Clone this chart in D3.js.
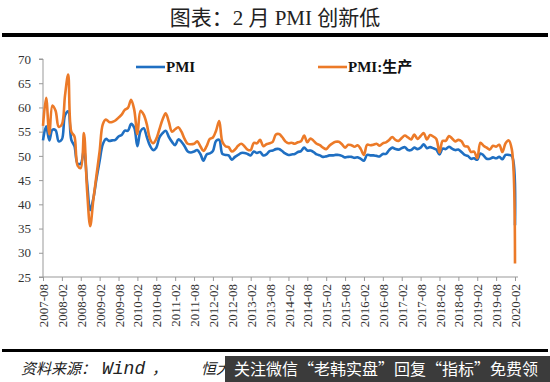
<!DOCTYPE html>
<html>
<head>
<meta charset="utf-8">
<script src="https://cdn.jsdelivr.net/npm/d3@7"></script>
<style>
  body { margin: 0; background: #fff; }
  svg { display: block; }
</style>
</head>
<body>
<div id="chart"></div>
<script>
// monthly data, 2007-08 .. 2020-02
var pmi = [
  53.2, 56.1, 53.2, 55.4, 55.3,
  53.0, 53.4, 58.4, 59.2, 53.3, 52.0, 48.4, 48.4, 51.2, 44.6, 38.8, 41.2,
  45.3, 49.0, 52.4, 53.5, 53.1, 53.2, 53.3, 54.0, 54.3, 55.2, 55.2, 56.6,
  55.8, 52.0, 55.1, 55.7, 53.9, 52.1, 51.2, 51.7, 53.8, 54.7, 55.2, 53.9,
  52.9, 52.2, 53.4, 52.9, 52.0, 50.9, 50.7, 50.9, 51.2, 50.4, 49.0, 50.3,
  50.5, 51.0, 53.1, 53.3, 50.4, 50.2, 50.1, 49.2, 49.8, 50.2, 50.6, 50.6,
  50.4, 50.1, 50.9, 50.6, 50.8, 50.1, 50.3, 51.0, 51.1, 51.4, 51.4, 51.0,
  50.5, 50.2, 50.3, 50.4, 50.8, 51.0, 51.7, 51.1, 51.1, 50.8, 50.3, 50.1,
  49.8, 49.9, 50.1, 50.1, 50.2, 50.2, 50.0, 49.7, 49.8, 49.8, 49.6, 49.7,
  49.4, 49.0, 50.2, 50.1, 50.1, 50.0, 49.9, 50.4, 50.4, 51.2, 51.7, 51.4,
  51.3, 51.6, 51.8, 51.2, 51.2, 51.7, 51.4, 51.7, 52.4, 51.6, 51.8, 51.6,
  51.3, 50.3, 51.5, 51.4, 51.9, 51.5, 51.2, 51.3, 50.8, 50.2, 50.0, 49.4,
  49.5, 49.2, 50.5, 50.1, 49.4, 49.4, 49.7, 49.5, 49.8, 49.3, 50.2, 50.2,
  50.0, 35.7
];
var production = [
  56.2, 62.0, 54.5, 60.4, 59.3,
  56.0, 56.5, 62.5, 66.8, 55.0, 54.0, 48.0, 47.5, 54.7, 43.0, 35.5, 41.0,
  46.0, 51.0, 56.5, 57.5, 57.0, 57.0, 57.3, 57.9, 58.5, 59.5, 59.9, 61.6,
  59.5, 54.5, 59.3, 58.5, 56.5, 53.5, 52.6, 53.5, 55.5, 57.5, 58.8, 57.0,
  55.0, 55.5, 55.9, 55.0, 53.5, 52.5, 52.4, 52.5, 53.0, 52.0, 51.0, 52.0,
  53.5, 53.8, 55.2, 57.2, 52.9, 52.0, 51.8, 50.9, 51.3, 52.1, 52.5, 52.0,
  51.3, 51.2, 52.7, 52.6, 53.3, 52.0, 52.4, 52.6, 52.9, 54.4, 54.5, 53.9,
  53.0, 52.6, 52.7, 52.5, 52.8, 53.0, 54.2, 52.8, 53.6, 53.1, 52.5, 52.2,
  51.7, 51.4, 52.1, 52.6, 52.9, 52.9, 52.4, 51.7, 52.3, 52.2, 51.9, 52.2,
  51.4, 50.2, 52.3, 52.2, 52.3, 52.5, 52.1, 52.6, 52.8, 53.3, 53.9, 53.3,
  53.1, 53.7, 54.2, 53.8, 53.4, 54.4, 53.5, 54.1, 54.7, 53.4, 54.3, 54.0,
  53.5, 50.7, 53.1, 53.1, 54.1, 53.6, 53.0, 53.3, 53.0, 52.0, 51.9, 50.8,
  50.9, 49.5, 52.7, 52.1, 51.7, 51.3, 52.1, 51.9, 52.3, 50.8, 52.6, 53.2,
  51.3, 27.8
];
var tickLabels = [
  "2007-08", "2008-02", "2008-08", "2009-02", "2009-08", "2010-02", "2010-08",
  "2011-02", "2011-08", "2012-02", "2012-08", "2013-02", "2013-08", "2014-02",
  "2014-08", "2015-02", "2015-08", "2016-02", "2016-08", "2017-02", "2017-08",
  "2018-02", "2018-08", "2019-02", "2019-08", "2020-02"
];
var yTicks = [25, 30, 35, 40, 45, 50, 55, 60, 65, 70];
var seriesNames = ["PMI", "PMI:生产"];

var width = 550, height = 382;
var blue = "#1f6fc2", orange = "#ec7a28";
var serif = "'Liberation Serif', 'Times New Roman', 'Noto Sans CJK SC', serif";
var cjk = "'Noto Sans CJK SC', sans-serif";

var svg = d3.select("#chart").append("svg")
  .attr("width", width)
  .attr("height", height);

// title + rules
svg.append("text")
  .attr("x", 275).attr("y", 25)
  .attr("text-anchor", "middle")
  .attr("font-family", serif)
  .attr("font-size", 21)
  .attr("fill", "#222")
  .text("图表：2 月 PMI 创新低");
svg.append("rect").attr("x", 2).attr("y", 33).attr("width", 546).attr("height", 4).attr("fill", "#000");
svg.append("rect").attr("x", 2).attr("y", 349).attr("width", 546).attr("height", 3).attr("fill", "#000");

// scales
var x = d3.scaleLinear().domain([0, pmi.length - 1]).range([43, 515]);
var y = d3.scaleLinear().domain([25, 70]).range([277, 59]);

// y axis
var yAxis = svg.append("g")
  .attr("transform", "translate(43,0)")
  .call(d3.axisLeft(y).tickValues(yTicks).tickSize(4).tickPadding(8));
yAxis.select(".domain").attr("stroke", "#999").attr("d", "M-4,59H0V277H-4");
yAxis.selectAll(".tick line").attr("stroke", "#999");
yAxis.selectAll("text")
  .attr("font-family", serif)
  .attr("font-size", 13)
  .attr("fill", "#333");

// x axis
var xAxis = svg.append("g")
  .attr("transform", "translate(0,277)")
  .call(d3.axisBottom(x)
    .tickValues(tickLabels.map(function(d, i) { return i * 6; }))
    .tickFormat(function(d) { return tickLabels[d / 6]; })
    .tickSize(4)
    .tickSizeOuter(0));
xAxis.select(".domain").attr("stroke", "#999").attr("d", "M43,0H518");
xAxis.selectAll(".tick line").attr("stroke", "#999");
xAxis.selectAll("text")
  .attr("font-family", serif)
  .attr("font-size", 13)
  .attr("fill", "#333")
  .attr("text-anchor", "end")
  .attr("transform", "rotate(-90)")
  .attr("x", -7)
  .attr("y", 0)
  .attr("dy", "0.35em");

// lines
var line = d3.line()
  .x(function(d, i) { return x(i); })
  .y(function(d) { return y(d); })
  .curve(d3.curveCatmullRom.alpha(0.5));

svg.append("path").datum(pmi)
  .attr("d", line)
  .attr("fill", "none")
  .attr("stroke", blue)
  .attr("stroke-width", 2.6);
svg.append("path").datum(production)
  .attr("d", line)
  .attr("fill", "none")
  .attr("stroke", orange)
  .attr("stroke-width", 2.6);

// legend
var legend = [
  { name: seriesNames[0], color: blue, x: 136 },
  { name: seriesNames[1], color: orange, x: 318 }
];
legend.forEach(function(l) {
  svg.append("line")
    .attr("x1", l.x).attr("x2", l.x + 29)
    .attr("y1", 67).attr("y2", 67)
    .attr("stroke", l.color).attr("stroke-width", 2.6);
  svg.append("text")
    .attr("x", l.x + 30).attr("y", 72)
    .attr("font-family", serif)
    .attr("font-size", 15)
    .attr("font-weight", "bold")
    .attr("fill", "#111")
    .text(l.name);
});

// source note (the part under the banner is clipped off)
svg.append("clipPath").attr("id", "srcclip")
  .append("rect").attr("x", 0).attr("y", 352).attr("width", 225).attr("height", 30);
var src = svg.append("text")
  .attr("clip-path", "url(#srcclip)")
  .attr("y", 374)
  .attr("font-size", 15)
  .attr("font-style", "italic")
  .attr("fill", "#222");
src.append("tspan").attr("x", 21).attr("font-family", cjk).text("资料来源：");
src.append("tspan").attr("x", 102).attr("font-family", "'Liberation Mono', monospace")
  .attr("font-size", 18).text("Wind");
src.append("tspan").attr("x", 152).attr("font-family", cjk).text("，");
src.append("tspan").attr("x", 201).attr("font-family", cjk).text("恒大");

// overlay banner
svg.append("rect")
  .attr("x", 225).attr("y", 356)
  .attr("width", 325).attr("height", 26)
  .attr("fill", "#3b3b3b");
svg.append("text")
  .attr("x", 234).attr("y", 375)
  .attr("font-family", cjk)
  .attr("font-size", 16)
  .attr("fill", "#fff")
  .text("关注微信“老韩实盘”回复“指标”免费领");
</script>
</body>
</html>
